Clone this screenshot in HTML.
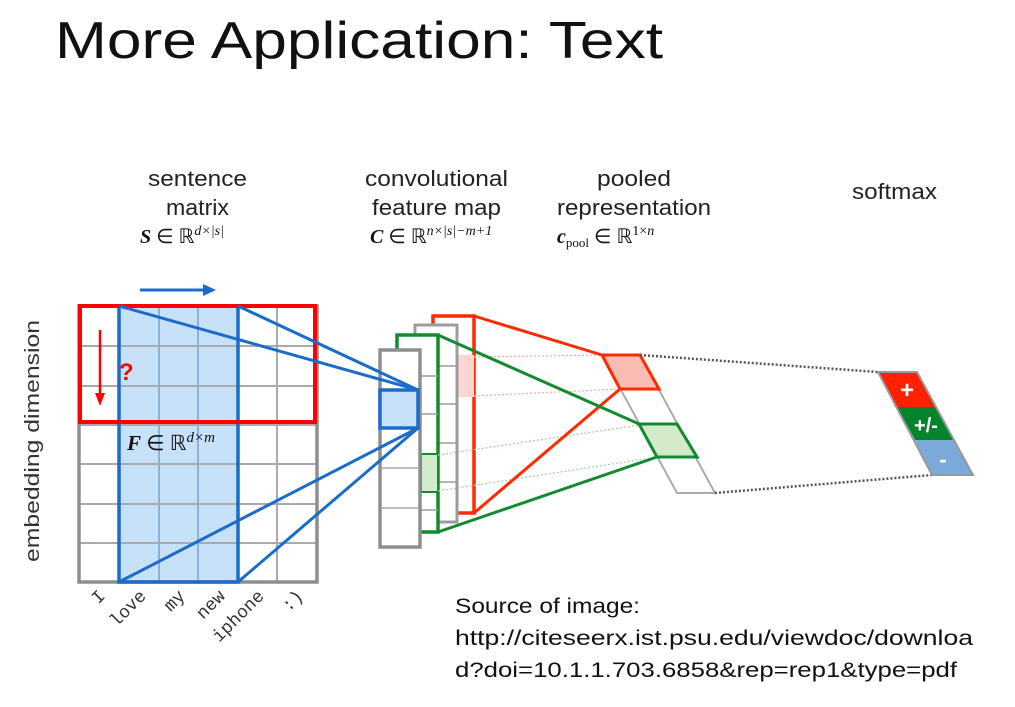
<!DOCTYPE html>
<html><head><meta charset="utf-8"><style>
html,body{margin:0;padding:0;background:#fff;}
svg{display:block;}
text.s{font-family:"Liberation Sans",sans-serif;}
text.m{font-family:"Liberation Serif",serif;}
text.w{font-family:"Liberation Mono",monospace;font-size:18px;fill:#333;}
</style></head><body>
<svg width="1015" height="707" viewBox="0 0 1015 707" xmlns="http://www.w3.org/2000/svg">
<text class="s" x="55" y="58" font-size="52" fill="#111" textLength="608" lengthAdjust="spacingAndGlyphs">More Application: Text</text>

<g font-size="22" fill="#222">
<text class="s" x="148" y="186" textLength="99" lengthAdjust="spacingAndGlyphs">sentence</text>
<text class="s" x="166" y="215" textLength="63" lengthAdjust="spacingAndGlyphs">matrix</text>
<text class="s" x="365" y="186" textLength="143" lengthAdjust="spacingAndGlyphs">convolutional</text>
<text class="s" x="372" y="215" textLength="129" lengthAdjust="spacingAndGlyphs">feature map</text>
<text class="s" x="597" y="186" textLength="74" lengthAdjust="spacingAndGlyphs">pooled</text>
<text class="s" x="557" y="215" textLength="154" lengthAdjust="spacingAndGlyphs">representation</text>
<text class="s" x="852" y="199" textLength="85" lengthAdjust="spacingAndGlyphs">softmax</text>
</g>
<g fill="#111" font-size="20">
<text class="m" x="140" y="243"><tspan font-weight="bold" font-style="italic">S</tspan> ∈ ℝ<tspan font-size="14" dy="-8" font-style="italic">d×|s|</tspan></text>
<text class="m" x="370" y="243"><tspan font-weight="bold" font-style="italic">C</tspan> ∈ ℝ<tspan font-size="14" dy="-8" font-style="italic">n×|s|−m+1</tspan></text>
<text class="m" x="557" y="243"><tspan font-weight="bold" font-style="italic">c</tspan><tspan font-size="13" dy="4">pool</tspan><tspan dy="-4"> ∈ ℝ</tspan><tspan font-size="14" dy="-8">1×</tspan><tspan font-size="14" font-style="italic">n</tspan></text>
</g>

<text class="s" transform="translate(39,441) rotate(-90)" font-size="20" fill="#333" text-anchor="middle" textLength="242" lengthAdjust="spacingAndGlyphs">embedding dimension</text>

<!-- sentence matrix -->
<rect x="119" y="306" width="119" height="276" fill="#c7e1f9"/>
<g stroke="#a8aaad" stroke-width="2">
<line x1="159" y1="306" x2="159" y2="582" stroke="#8fb0d2"/>
<line x1="198" y1="306" x2="198" y2="582" stroke="#8fb0d2"/>
<line x1="277" y1="306" x2="277" y2="582"/>
<line x1="79" y1="346" x2="317" y2="346"/>
<line x1="79" y1="386" x2="317" y2="386"/>
<line x1="79" y1="425" x2="317" y2="425"/>
<line x1="79" y1="464" x2="317" y2="464"/>
<line x1="79" y1="504" x2="317" y2="504"/>
<line x1="79" y1="543" x2="317" y2="543"/>
</g>
<rect x="79" y="306" width="238" height="276" fill="none" stroke="#8c8e91" stroke-width="3.5"/>
<rect x="119" y="306" width="119" height="276" fill="none" stroke="#1a6ccb" stroke-width="3.5"/>
<rect x="80" y="306" width="235" height="116" fill="none" stroke="#f00" stroke-width="4"/>
<line x1="140" y1="290" x2="205" y2="290" stroke="#1a6ccb" stroke-width="3"/>
<polygon points="216,290 203,284 203,296" fill="#1a6ccb"/>
<line x1="100" y1="330" x2="100" y2="395" stroke="#f00" stroke-width="2.5"/>
<polygon points="100,406 95,393 105,393" fill="#f00"/>
<text class="s" x="119" y="380" font-size="24" font-weight="bold" fill="#f00">?</text>
<text class="m" x="127" y="450" font-size="21" fill="#111"><tspan font-weight="bold" font-style="italic">F</tspan> ∈ ℝ<tspan font-size="15" dy="-8" font-style="italic">d×m</tspan></text>

<!-- words -->
<g text-anchor="end">
<text class="w" transform="translate(106,597) rotate(-45)">I</text>
<text class="w" transform="translate(147,597) rotate(-45)">love</text>
<text class="w" transform="translate(186,597) rotate(-45)">my</text>
<text class="w" transform="translate(226,597) rotate(-45)">new</text>
<text class="w" transform="translate(265,597) rotate(-45)">iphone</text>
<text class="w" transform="translate(304,597) rotate(-45)">:)</text>
</g>

<!-- conv feature maps, back to front -->
<rect x="433" y="316" width="41" height="197" fill="#fff" stroke="#ff2a00" stroke-width="3.5"/>
<rect x="458" y="355" width="16" height="42" fill="#fcd6d0"/>
<rect x="415" y="325" width="42" height="197" fill="#fff" stroke="#9a9ca0" stroke-width="3"/>
<g stroke="#9a9ca0" stroke-width="1.5"><line x1="438" y1="366" x2="457" y2="366"/><line x1="438" y1="404" x2="457" y2="404"/><line x1="438" y1="443" x2="457" y2="443"/><line x1="438" y1="482" x2="457" y2="482"/></g>
<rect x="397" y="335" width="41" height="197" fill="#fff" stroke="#138a2f" stroke-width="3.5"/>
<rect x="421" y="454" width="17" height="38" fill="#d4ebcb" stroke="#138a2f" stroke-width="2"/>
<g stroke="#9a9ca0" stroke-width="1.5"><line x1="420" y1="376" x2="438" y2="376"/><line x1="420" y1="414" x2="438" y2="414"/><line x1="420" y1="510" x2="438" y2="510"/></g>
<rect x="380" y="350" width="40" height="197" fill="#fff" stroke="#8c8e91" stroke-width="3.5"/>
<g stroke="#a8aaad" stroke-width="1.5"><line x1="382" y1="468" x2="418" y2="468"/><line x1="382" y1="508" x2="418" y2="508"/></g>
<rect x="380" y="390" width="38" height="38" fill="#c7e1f9" stroke="#1a6ccb" stroke-width="3.5"/>
<g stroke="#1a6ccb" stroke-width="3">
<line x1="119" y1="306" x2="418" y2="390"/>
<line x1="238" y1="306" x2="418" y2="390"/>
<line x1="119" y1="582" x2="418" y2="428"/>
<line x1="238" y1="582" x2="418" y2="428"/>
</g>

<!-- pooled -->
<g stroke-dasharray="2,2" stroke-width="1.2">
<line x1="474" y1="357" x2="602" y2="355" stroke="#f5a99c"/>
<line x1="474" y1="396" x2="620" y2="389" stroke="#f5a99c"/>
<line x1="438" y1="455" x2="640" y2="425" stroke="#9fd09a"/>
<line x1="438" y1="491" x2="657" y2="457" stroke="#9fd09a"/>
</g>
<polygon points="602,355 640,355 715,493 677,493" fill="#fff" stroke="#a8aaad" stroke-width="2"/>
<polygon points="602,355 640,355 659,389 620,389" fill="#fbbdb3" stroke="#ff2a00" stroke-width="3"/>
<polygon points="639,424 677,424 697,457 657,457" fill="#d4ebcb" stroke="#138a2f" stroke-width="3"/>
<g stroke-width="3">
<line x1="474" y1="316" x2="602" y2="355" stroke="#ff2a00"/>
<line x1="474" y1="513" x2="620" y2="389" stroke="#ff2a00"/>
<line x1="438" y1="335" x2="639" y2="424" stroke="#138a2f"/>
<line x1="438" y1="532" x2="657" y2="457" stroke="#138a2f"/>
</g>

<!-- softmax -->
<g stroke="#555" stroke-width="2.5" stroke-dasharray="2,2">
<line x1="640" y1="355" x2="878" y2="372"/>
<line x1="715" y1="493" x2="932" y2="475"/>
</g>
<polygon points="878,372 917,372 936,407 897,407" fill="#ff2200"/>
<polygon points="897,407 936,407 954,440 915,440" fill="#05842b"/>
<polygon points="915,440 954,440 973,475 932,475" fill="#7aa9da"/>
<polygon points="878,372 917,372 973,475 932,475" fill="none" stroke="#999" stroke-width="2"/>
<g fill="#fff" font-weight="bold" text-anchor="middle">
<text class="s" x="907" y="398" font-size="24">+</text>
<text class="s" x="926" y="432" font-size="20">+/-</text>
<text class="s" x="943" y="467" font-size="22">-</text>
</g>

<g font-size="21" fill="#111">
<text class="s" x="455" y="613" textLength="185" lengthAdjust="spacingAndGlyphs">Source of image:</text>
<text class="s" x="455" y="645" textLength="518" lengthAdjust="spacingAndGlyphs">http://citeseerx.ist.psu.edu/viewdoc/downloa</text>
<text class="s" x="455" y="677" textLength="502" lengthAdjust="spacingAndGlyphs">d?doi=10.1.1.703.6858&amp;rep=rep1&amp;type=pdf</text>
</g>
</svg>
</body></html>
